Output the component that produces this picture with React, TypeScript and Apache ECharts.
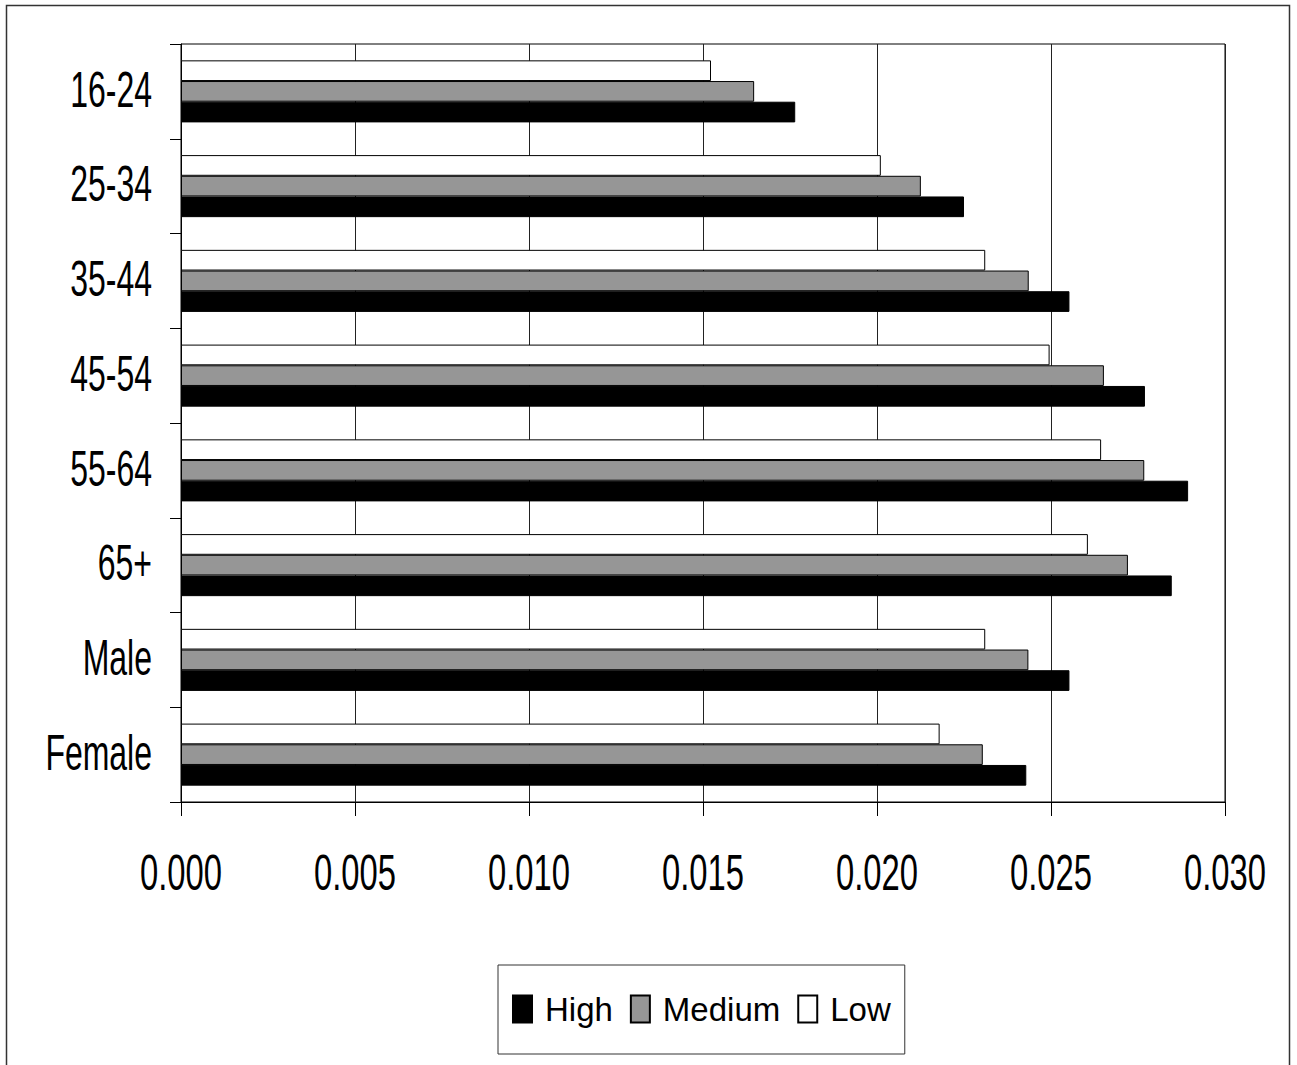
import React, { useEffect, useRef } from "react";
import * as echarts from "echarts";

const categories = ["16-24", "25-34", "35-44", "45-54", "55-64", "65+", "Male", "Female"];
const lowValues = [0.01523, 0.02011, 0.02311, 0.02496, 0.02644, 0.02606, 0.02311, 0.0218];
const mediumValues = [0.01647, 0.02126, 0.02436, 0.02652, 0.02768, 0.02721, 0.02435, 0.02304];
const highValues = [0.01765, 0.0225, 0.02553, 0.0277, 0.02894, 0.02847, 0.02553, 0.02429];
const legendNames = ["High", "Medium", "Low"];
const xTickValues = [0, 0.005, 0.01, 0.015, 0.02, 0.025, 0.03];
const xTickLabels = ["0.000", "0.005", "0.010", "0.015", "0.020", "0.025", "0.030"];

const FONT = "'Liberation Sans', Arial, sans-serif";

export default function App() {
  const ref = useRef<HTMLDivElement>(null);
  useEffect(() => {
    if (!ref.current) return;
    const chart = echarts.init(ref.current, undefined, { renderer: "svg" });
    const barBase = {
      type: "bar" as const,
      barGap: "0%",
      barCategoryGap: "34.5%",
    };
    chart.setOption({
      animation: false,
      backgroundColor: "#ffffff",
      textStyle: { fontFamily: FONT },
      grid: {
        left: 181,
        right: 72,
        top: 44,
        bottom: 263,
        show: true,
        borderColor: "#000",
        borderWidth: 1,
        backgroundColor: "transparent",
      },
      xAxis: {
        type: "value",
        min: 0,
        max: 0.03,
        interval: 0.005,
        axisLine: { show: true, lineStyle: { color: "#000", width: 1 } },
        axisTick: { show: true, length: 14, lineStyle: { color: "#000" } },
        splitLine: { show: true, lineStyle: { color: "#222", width: 1 } },
        axisLabel: { show: false },
      },
      yAxis: {
        type: "category",
        data: categories,
        inverse: true,
        axisLine: { show: true, lineStyle: { color: "#000", width: 1 } },
        axisTick: { show: true, length: 11, alignWithLabel: false, lineStyle: { color: "#000" } },
        splitLine: { show: false },
        axisLabel: { show: false },
      },
      legend: {
        data: legendNames,
        left: 498,
        top: 965,
        orient: "horizontal",
        icon: "rect",
        itemWidth: 19,
        itemHeight: 27,
        itemGap: 17,
        borderColor: "#333",
        borderWidth: 1,
        padding: [24, 14, 25, 14],
        textStyle: {
          fontSize: 33,
          lineHeight: 40,
          color: "#000",
          fontFamily: FONT,
          padding: [0, 0, 0, 8],
        },
      },
      series: [
        {
          ...barBase,
          name: "Low",
          data: lowValues,
          itemStyle: { color: "#ffffff", borderColor: "#000", borderWidth: 1 },
        },
        {
          ...barBase,
          name: "Medium",
          data: mediumValues,
          itemStyle: { color: "#969696", borderColor: "#000", borderWidth: 1 },
        },
        {
          ...barBase,
          name: "High",
          data: highValues,
          itemStyle: { color: "#000000", borderColor: "#000", borderWidth: 1 },
        },
      ],
    });

    const xAxisY = chart.convertToPixel({ yAxisIndex: 0 }, categories.length - 1) as number;
    const gridRect = (chart as any).getModel().getComponent("grid", 0).coordinateSystem.getRect();
    const axisLeft = gridRect.x;
    const axisBottom = gridRect.y + gridRect.height;

    const yLabelEls = categories.map((c, i) => ({
      type: "text",
      x: axisLeft - 29,
      y: (chart.convertToPixel({ yAxisIndex: 0 }, i) as number) - 2,
      scaleX: 0.82,
      scaleY: 1.29,
      silent: true,
      style: {
        text: c,
        fill: "#000",
        font: `39px ${FONT}`,
        align: "right",
        verticalAlign: "middle",
      },
    }));
    const xLabelEls = xTickValues.map((v, i) => ({
      type: "text",
      x: chart.convertToPixel({ xAxisIndex: 0 }, v) as number,
      y: axisBottom + 71,
      scaleX: 0.82,
      scaleY: 1.23,
      silent: true,
      style: {
        text: xTickLabels[i],
        fill: "#000",
        font: `40px ${FONT}`,
        align: "center",
        verticalAlign: "middle",
      },
    }));
    void xAxisY;

    chart.setOption({
      graphic: [
        {
          type: "rect",
          shape: { x: 6.5, y: 5.5, width: 1283, height: 1075 },
          style: { fill: "none", stroke: "#333", lineWidth: 1.5 },
          silent: true,
        },
        ...yLabelEls,
        ...xLabelEls,
      ],
    });
    return () => chart.dispose();
  }, []);
  return (
    <div
      ref={ref}
      style={{ position: "absolute", left: 0, top: 0, width: 1297, height: 1065 }}
    />
  );
}
